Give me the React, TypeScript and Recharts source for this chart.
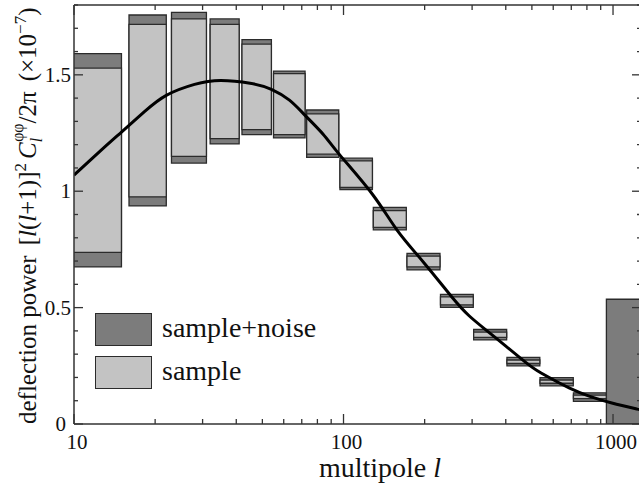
import React from "react";
import { ComposedChart, Line, XAxis, YAxis, ReferenceArea, Legend } from "recharts";

// multipole bins (integer edges)
const binLow = [2, 16, 23, 32, 42, 55, 73, 97, 129, 172, 229, 304, 404, 536, 713, 945];
const binHigh = [15, 22, 31, 41, 54, 72, 96, 128, 171, 228, 303, 403, 535, 712, 944, 1300];

// sample+noise error range
const noiseLow = [0.675, 0.937, 1.121, 1.203, 1.243, 1.229, 1.145, 1.007, 0.834, 0.662, 0.501, 0.361, 0.25, 0.164, 0.097, 0];
const noiseHigh = [1.591, 1.757, 1.768, 1.74, 1.651, 1.516, 1.349, 1.142, 0.931, 0.733, 0.557, 0.406, 0.286, 0.199, 0.134, 0.536];

// sample-only error range
const sampleLow = [0.737, 0.976, 1.15, 1.226, 1.265, 1.243, 1.159, 1.016, 0.845, 0.675, 0.512, 0.372, 0.26, 0.175, 0.109, null];
const sampleHigh = [1.529, 1.717, 1.74, 1.717, 1.632, 1.505, 1.332, 1.13, 0.917, 0.721, 0.546, 0.395, 0.275, 0.189, 0.124, null];

// theory curve
const curveL = [10, 12.5, 15, 18.3, 22, 28, 35, 45, 54, 63, 72, 84, 97, 128, 158, 198, 251, 293, 353, 468, 541, 687, 815, 990, 1230, 1270];
const curveValue = [1.069, 1.172, 1.254, 1.343, 1.412, 1.459, 1.476, 1.464, 1.438, 1.391, 1.326, 1.245, 1.155, 0.987, 0.833, 0.695, 0.549, 0.464, 0.386, 0.27, 0.219, 0.155, 0.12, 0.09, 0.064, 0.06];

const xTicks = [10, 20, 30, 40, 50, 60, 70, 80, 90, 100, 200, 300, 400, 500, 600, 700, 800, 900, 1000];
const yTicks = [0, 0.1, 0.2, 0.3, 0.4, 0.5, 0.6, 0.7, 0.8, 0.9, 1, 1.1, 1.2, 1.3, 1.4, 1.5, 1.6, 1.7, 1.8];

const legendItems = [
  { label: "sample+noise", color: "#7c7c7c" },
  { label: "sample", color: "#c3c3c3" },
];

const FONT = "'Liberation Serif', 'Times New Roman', serif";
const DARK = "#7c7c7c";
const LIGHT = "#c3c3c3";
const EDGE = "#2b2b2b";
const AXIS = "#333";

const curveData = curveL.map((l, i) => ({ l, v: curveValue[i] }));

const isMajorX = (v: number) => Math.abs(Math.log10(v) - Math.round(Math.log10(v))) < 1e-6;
const isMajorY = (v: number) => Math.abs(v * 2 - Math.round(v * 2)) < 1e-6;

const BottomTick = (props: any) => {
  const { x, y, payload } = props;
  const major = isMajorX(payload.value);
  return (
    <g>
      <line x1={x} y1={y} x2={x} y2={y - (major ? 10 : 5)} stroke={AXIS} strokeWidth={1.3} />
      {major && (
        <text x={x + 3} y={y + 25} textAnchor="middle" fontSize={21} fontFamily={FONT} fill="#111">
          {payload.value}
        </text>
      )}
    </g>
  );
};

const TopTick = (props: any) => {
  const { x, y, payload } = props;
  const major = isMajorX(payload.value);
  return <line x1={x} y1={y} x2={x} y2={y + (major ? 10 : 5)} stroke={AXIS} strokeWidth={1.3} />;
};

const LeftTick = (props: any) => {
  const { x, y, payload } = props;
  const major = isMajorY(payload.value);
  // the "0" sits right next to the "10" below it, nudge it left a little
  const dx = payload.value === 0 ? 8 : 3;
  return (
    <g>
      <line x1={x} y1={y} x2={x + (major ? 9 : 4)} y2={y} stroke={AXIS} strokeWidth={1.3} />
      {major && (
        <text x={x - dx} y={y + 7} textAnchor="end" fontSize={21} fontFamily={FONT} fill="#111">
          {String(Math.round(payload.value * 10) / 10)}
        </text>
      )}
    </g>
  );
};

const RightTick = (props: any) => {
  const { x, y, payload } = props;
  const major = isMajorY(payload.value);
  return <line x1={x} y1={y} x2={x - (major ? 9 : 4)} y2={y} stroke={AXIS} strokeWidth={1.3} />;
};

const YLabel = () => (
  <text transform="translate(36,424) rotate(-90)" fontSize={25} fontFamily={FONT} fill="#111">
    <tspan>deflection power</tspan>
    <tspan dx={10}>[</tspan>
    <tspan fontStyle="italic">l</tspan>
    <tspan>(</tspan>
    <tspan fontStyle="italic">l</tspan>
    <tspan>+1)]</tspan>
    <tspan dy={-10} fontSize={17}>2</tspan>
    <tspan dy={10} dx={4} fontStyle="italic">C</tspan>
    <tspan dy={6} fontSize={16} fontStyle="italic">l</tspan>
    <tspan dy={-19} dx={-4} fontSize={16}>φφ</tspan>
    <tspan dy={13}>/2π</tspan>
    <tspan dx={10}>(×10</tspan>
    <tspan dy={-10} fontSize={17}>−7</tspan>
    <tspan dy={10}>)</tspan>
  </text>
);

const XLabel = () => (
  <text x={380} y={477} textAnchor="middle" fontSize={28} fontFamily={FONT} fill="#111">
    <tspan>multipole </tspan>
    <tspan fontStyle="italic">l</tspan>
  </text>
);

const renderLegend = () => (
  <div style={{ fontFamily: FONT }}>
    {legendItems.map((item) => (
      <div key={item.label} style={{ position: "relative", height: 43 }}>
        <div
          style={{
            position: "absolute",
            left: 0,
            top: 0,
            width: 55,
            height: 31,
            background: item.color,
            border: `1.5px solid ${EDGE}`,
          }}
        />
        <span
          style={{
            position: "absolute",
            left: 67,
            top: -3,
            fontSize: 28,
            lineHeight: "36px",
            color: "#111",
            whiteSpace: "nowrap",
          }}
        >
          {item.label}
        </span>
      </div>
    ))}
  </div>
);

export default function App() {
  return (
    <div
      style={{
        position: "absolute",
        left: 0,
        top: 0,
        width: 639,
        height: 487,
        overflow: "hidden",
        background: "#fff",
      }}
    >
      <ComposedChart
        width={645}
        height={487}
        data={curveData}
        margin={{ top: 4, right: 3, bottom: 62, left: 73 }}
      >
        <XAxis
          xAxisId="b"
          dataKey="l"
          type="number"
          scale="log"
          domain={[10, 1270]}
          allowDataOverflow
          ticks={xTicks}
          interval={0}
          height={1}
          tickSize={0}
          tickMargin={0}
          tick={BottomTick}
          axisLine={{ stroke: AXIS, strokeWidth: 1.5 }}
          label={XLabel}
        />
        <XAxis
          xAxisId="t"
          orientation="top"
          dataKey="l"
          type="number"
          scale="log"
          domain={[10, 1270]}
          allowDataOverflow
          ticks={xTicks}
          interval={0}
          height={1}
          tickSize={0}
          tickMargin={0}
          tick={TopTick}
          axisLine={{ stroke: AXIS, strokeWidth: 1.5 }}
        />
        <YAxis
          yAxisId="l"
          type="number"
          domain={[0, 1.8]}
          allowDataOverflow
          ticks={yTicks}
          interval={0}
          width={1}
          tickSize={0}
          tickMargin={0}
          tick={LeftTick}
          axisLine={{ stroke: AXIS, strokeWidth: 1.5 }}
          label={YLabel}
        />
        <YAxis
          yAxisId="r"
          orientation="right"
          type="number"
          domain={[0, 1.8]}
          allowDataOverflow
          ticks={yTicks}
          interval={0}
          width={1}
          tickSize={0}
          tickMargin={0}
          tick={RightTick}
          axisLine={{ stroke: AXIS, strokeWidth: 1.5 }}
        />
        {binLow.map((lo, i) => (
          <ReferenceArea
            key={`n${i}`}
            xAxisId="b"
            yAxisId="l"
            x1={lo}
            x2={binHigh[i]}
            y1={noiseLow[i]}
            y2={noiseHigh[i]}
            fill={DARK}
            fillOpacity={1}
            stroke={EDGE}
            strokeWidth={1.3}
            ifOverflow="hidden"
          />
        ))}
        {binLow.map((lo, i) =>
          sampleLow[i] == null ? null : (
            <ReferenceArea
              key={`s${i}`}
              xAxisId="b"
              yAxisId="l"
              x1={lo}
              x2={binHigh[i]}
              y1={sampleLow[i] as number}
              y2={sampleHigh[i] as number}
              fill={LIGHT}
              fillOpacity={1}
              stroke={EDGE}
              strokeWidth={1.3}
              ifOverflow="hidden"
            />
          )
        )}
        <Line
          xAxisId="b"
          yAxisId="l"
          dataKey="v"
          type="natural"
          stroke="#000"
          strokeWidth={3}
          dot={false}
          isAnimationActive={false}
        />
        <Legend
          layout="vertical"
          align="center"
          verticalAlign="middle"
          content={renderLegend}
          wrapperStyle={{ left: 95, top: 313, width: 260 }}
        />
      </ComposedChart>
    </div>
  );
}
